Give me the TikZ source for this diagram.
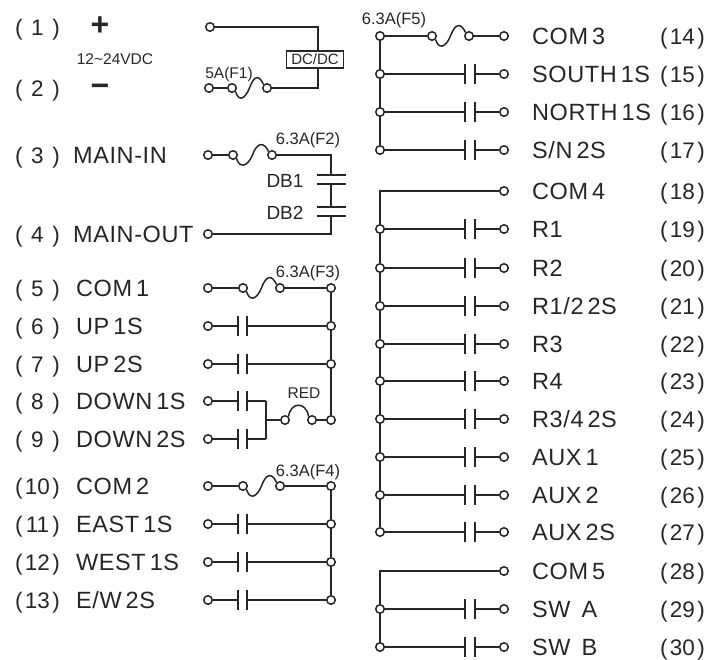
\documentclass[tikz,border=0pt]{standalone}
\usepackage{fontspec}
\setmainfont{Liberation Sans}
\newfontfamily\labfont[LetterSpace=2.5]{Liberation Sans}
\usetikzlibrary{calc}
\definecolor{ink}{HTML}{262626}
\newcommand\tightspace{\spaceskip=.17em\relax}
\tikzset{
  wire/.style={draw=ink,line width=1.5pt},
  term/.style={circle,draw=ink,fill=white,line width=1.5pt,minimum size=8.5pt,inner sep=0pt},
  lab/.style={anchor=base west,inner sep=0pt,text=ink,font=\labfont\fontsize{23.5}{26}\selectfont\tightspace},
  small/.style={anchor=base,inner sep=0pt,text=ink,font=\fontsize{15.5}{17}\selectfont},
  fuselab/.style={anchor=base,inner sep=0pt,text=ink,font=\fontsize{16.5}{18}\selectfont},
  num/.style={anchor=base,inner sep=0pt,text=ink,font=\fontsize{22.5}{25}\selectfont}
}
% number label: parentheses at a fixed span, number centred
\newcommand\numlab[4]{\node[num] (#1) at (#2,#3+8) {\hbox to 45pt{(\hfil #4\hfil)}};}
% fuse between two named terminals
\newcommand\fusecurve[2]{%
  \coordinate (m#1) at ($(#1)!.5!(#2)$);
  \draw[wire] (#1.south east) .. controls +(3,10) and +(-5,12) .. (m#1) .. controls +(5,-14) and +(-4,-9) .. (#2.north west);}
% contact between two named nodes; plates at x = #3 and #4, on row y = #5
\newcommand\contact[5]{%
  \coordinate (p#1) at (#3,#5); \coordinate (q#1) at (#4,#5);
  \draw[wire] (#1) -- (p#1); \draw[wire] (q#1) -- (#2);
  \draw[wire] ($(p#1)+(0,-10)$) -- ($(p#1)+(0,10)$);
  \draw[wire] ($(q#1)+(0,-10)$) -- ($(q#1)+(0,10)$);}
\begin{document}
\begin{tikzpicture}[x=1pt,y=-1pt]
\useasboundingbox (0,0) rectangle (723,659);
% --- power
\numlab{n1}{37.5}{27}{1}
\numlab{n2}{37.5}{88}{2}
\node[anchor=center,inner sep=0pt,text=ink,font=\fontsize{32}{32}\bfseries] (plus) at (100,26) {+};
\node[anchor=center,inner sep=0pt,text=ink,font=\fontsize{32}{32}\bfseries] (minus) at (100,90) {−};
\node[small] (volt) at (115,64) {12\textasciitilde 24VDC};
\node[term] (t1) at (210,27) {};
\node[term] (t2) at (209,88) {};
\node[term] (f1a) at (232,88) {};
\node[term] (f1b) at (267,88) {};
\node[small] (f1) at (229,78) {5A(F1)};
\node[draw=ink,line width=1.4pt,fill=white,inner sep=0pt,minimum width=57pt,minimum height=17pt,text=ink,font=\fontsize{15}{16}\selectfont] (dc) at (315,59.5) {DC/DC};
\coordinate (c1) at (318,27);
\coordinate (c2) at (318,88);
\draw[wire] (t1) -- (c1) -- (c1|-dc.north);
\draw[wire] (f1b) -- (c2) -- (c2|-dc.south);
\draw[wire] (t2) -- (f1a);
\fusecurve{f1a}{f1b}
% --- main
\numlab{n3}{37.5}{155}{3}
\numlab{n4}{37.5}{234}{4}
\node[lab] (l3) at (73,163) {MAIN-IN};
\node[lab] (l4) at (73,242) {MAIN-OUT};
\node[term] (t3) at (208,155) {};
\node[term] (t4) at (208,234) {};
\node[term] (f2a) at (233,155) {};
\node[term] (f2b) at (272,155) {};
\node[fuselab] (f2) at (308,144) {6.3A(F2)};
\node[small,font=\fontsize{19}{20}\selectfont] (db1) at (285,187) {DB1};
\node[small,font=\fontsize{19}{20}\selectfont] (db2) at (285,219) {DB2};
\draw[wire] (t3) -- (f2a);
\fusecurve{f2a}{f2b}
\coordinate (d1) at (331,155);\coordinate (d2) at (331,175);\coordinate (d3) at (331,184);
\coordinate (d4) at (331,207);\coordinate (d5) at (331,216);\coordinate (d6) at (331,234);
\draw[wire] (f2b) -- (d1) -- (d2);
\draw[wire] (d3) -- (d4);
\draw[wire] (d5) -- (d6) -- (t4);
\foreach \d in {d2,d3,d4,d5}{\draw[wire] ($(\d)+(-14.5,0)$) -- ($(\d)+(14.5,0)$);}
% --- left rows
\foreach \i/\y/\n/\t in {5/288/5/{COM 1},6/326/6/{UP 1S},7/364/7/{UP 2S},8/401/8/{DOWN 1S},9/439/9/{DOWN 2S},10/486/10/{COM 2},11/524/11/{EAST 1S},12/562/12/{WEST 1S},13/600/13/{E/W 2S}}{
  \numlab{n\i}{37.5}{\y}{\n}
  \node[lab] (l\i) at (76,\y+8) {\t};
  \node[term] (t\i) at (208,\y) {};
}
\foreach \i/\y in {5/288,6/326,7/364,10/486,11/524,12/562,13/600}{
  \node[term] (b\i) at (331,\y) {};
}
\node[term] (b8) at (331,420) {};
\node[term] (r1) at (285,420) {};
\node[term] (r2) at (312,420) {};
\node[small] (red) at (304,398) {RED};
\node[term] (f3a) at (243,288) {};
\node[term] (f3b) at (280,288) {};
\node[fuselab] (f3) at (308,277) {6.3A(F3)};
\node[term] (f4a) at (243,486) {};
\node[term] (f4b) at (280,486) {};
\node[fuselab] (f4) at (308,476) {6.3A(F4)};
\draw[wire] (t5) -- (f3a); \fusecurve{f3a}{f3b} \draw[wire] (f3b) -- (b5);
\draw[wire] (t10) -- (f4a); \fusecurve{f4a}{f4b} \draw[wire] (f4b) -- (b10);
\contact{t6}{b6}{238}{247}{326}
\contact{t7}{b7}{238}{247}{364}
\contact{t11}{b11}{238}{247}{524}
\contact{t12}{b12}{238}{247}{562}
\contact{t13}{b13}{238}{247}{600}
\coordinate (j8) at (266,401);
\coordinate (j9) at (266,439);
\coordinate (jm) at (266,420);
\contact{t8}{j8}{238}{247}{401}
\contact{t9}{j9}{238}{247}{439}
\draw[wire] (j8) -- (j9);
\draw[wire] (jm) -- (r1);
\draw[wire] (r2) -- (b8);
\draw[wire] (r1.north east) .. controls +(2,-15) and +(-2,-15) .. (r2.north west);
\draw[wire] (b5) -- (b6); \draw[wire] (b6) -- (b7); \draw[wire] (b7) -- (b8);
\draw[wire] (b10) -- (b11); \draw[wire] (b11) -- (b12); \draw[wire] (b12) -- (b13);
% --- right rows
\foreach \i/\y/\t in {14/36/{COM 3},15/74/{SOUTH 1S},16/112/{NORTH 1S},17/150/{S/N 2S},18/191/{COM 4},19/229/{R1},20/268/{R2},21/306/{R1/2 2S},22/344/{R3},23/381/{R4},24/419/{R3/4 2S},25/457/{AUX 1},26/495/{AUX 2},27/532/{AUX 2S},28/571/{COM 5},29/609/{SW\hspace{.3em} A},30/647/{SW\hspace{.3em} B}}{
  \numlab{n\i}{682.5}{\y}{\i}
  \node[lab] (l\i) at (532,\y+8) {\t};
  \node[term] (t\i) at (504,\y) {};
}
\foreach \i/\y in {14/36,15/74,16/112,17/150,19/229,20/268,21/306,22/344,23/381,24/419,25/457,26/495,27/532,29/609,30/647}{
  \node[term] (b\i) at (380,\y) {};
}
\foreach \i/\y in {15/74,16/112,17/150,19/229,20/268,21/306,22/344,23/381,24/419,25/457,26/495,27/532,29/609,30/647}{
  \contact{b\i}{t\i}{465}{475}{\y}
}
\node[fuselab] (f5) at (394,24) {6.3A(F5)};
\node[term] (f5a) at (432,36) {};
\node[term] (f5b) at (469,36) {};
\draw[wire] (b14) -- (f5a); \fusecurve{f5a}{f5b} \draw[wire] (f5b) -- (t14);
\draw[wire] (b14) -- (b15); \draw[wire] (b15) -- (b16); \draw[wire] (b16) -- (b17);
\coordinate (k18) at (380,191);
\draw[wire] (t18) -- (k18) -- (b19);
\draw[wire] (b19) -- (b20); \draw[wire] (b20) -- (b21); \draw[wire] (b21) -- (b22); \draw[wire] (b22) -- (b23);
\draw[wire] (b23) -- (b24); \draw[wire] (b24) -- (b25); \draw[wire] (b25) -- (b26); \draw[wire] (b26) -- (b27);
\coordinate (k28) at (380,571);
\draw[wire] (t28) -- (k28) -- (b29);
\draw[wire] (b29) -- (b30);
\end{tikzpicture}
\end{document}
